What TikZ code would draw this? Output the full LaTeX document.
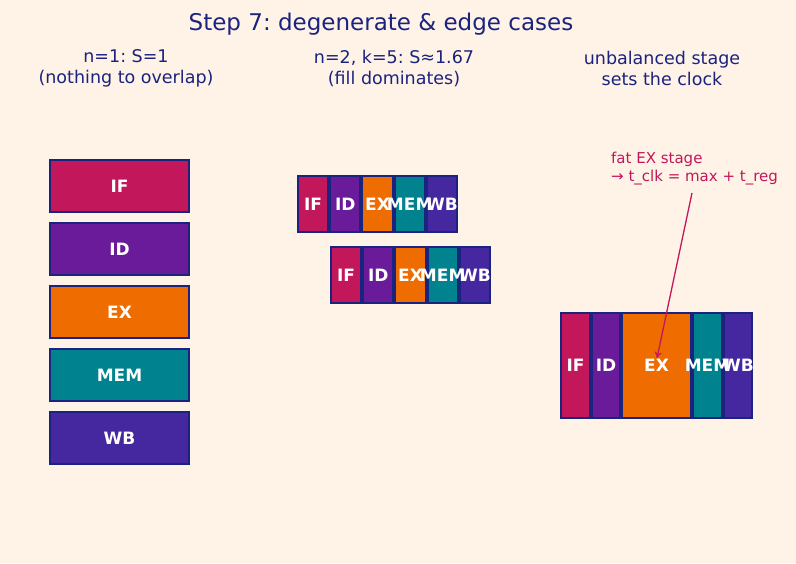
\documentclass[tikz,border=0pt]{standalone}
\usepackage{fontspec}
\setmainfont{DejaVu Sans}
\usetikzlibrary{arrows.meta}
\frenchspacing
\definecolor{bg}{HTML}{FFF2E6}
\definecolor{navy}{HTML}{1A237E}
\definecolor{cIF}{HTML}{C2185B}
\definecolor{cID}{HTML}{6A1B9A}
\definecolor{cEX}{HTML}{EF6C00}
\definecolor{cMEM}{HTML}{00838F}
\definecolor{cWB}{HTML}{4527A0}
\definecolor{note}{HTML}{C2185B}
\tikzset{
  stagebox/.style={draw=navy, line width=2pt, inner sep=0pt, outer sep=0pt},
  stagelabel/.style={text=white, font=\fontsize{17}{19}\selectfont\bfseries, inner sep=0pt},
  header/.style={text=navy, align=center, font=\fontsize{17.5}{21}\selectfont},
}
\begin{document}
\begin{tikzpicture}[x=1pt,y=-1pt]
\useasboundingbox[fill=bg] (0,0) rectangle (796,563);
\node[text=navy, font=\fontsize{23}{26}\selectfont] (title) at (381,24) {Step 7: degenerate \& edge cases};
\node[header] (h1) at (126,68.5) {n=1: S=1\\(nothing to overlap)};
\node[header] (h2) at (394,68.5) {n=2, k=5: S≈1.67\\(fill dominates)};
\node[header] (h3) at (662,68.5) {unbalanced stage\\sets the clock};
% column 1
\foreach \n/\c [count=\i from 0] in {IF/cIF,ID/cID,EX/cEX,MEM/cMEM,WB/cWB}{
  \node[stagebox, fill=\c, minimum width=139pt, minimum height=52pt] (a\n) at (119.5,186+63*\i) {};
  \node[stagelabel] (la\n) at (a\n.center) {\n};
}
% column 2
\foreach \n/\c [count=\i from 0] in {IF/cIF,ID/cID,EX/cEX,MEM/cMEM,WB/cWB}{
  \node[stagebox, fill=\c, minimum width=30.2pt, minimum height=56pt] (b\n) at (313.1+32.2*\i,204) {};
  \node[stagebox, fill=\c, minimum width=30.2pt, minimum height=56pt] (c\n) at (346.1+32.2*\i,275) {};
}
\foreach \n in {IF,ID,EX,MEM,WB}{
  \node[stagelabel] (lb\n) at (b\n.center) {\n};
  \node[stagelabel] (lc\n) at (c\n.center) {\n};
}
% column 3
\foreach \n/\c/\x/\w in {IF/cIF/575.5/31,ID/cID/606/30,EX/cEX/656.5/71,MEM/cMEM/707.5/31,WB/cWB/738/30}{
  \node[stagebox, fill=\c, minimum width=\w pt-2pt, minimum height=105pt] (d\n) at (\x,365.5) {};
}
\foreach \n in {IF,ID,EX,MEM,WB}{
  \node[stagelabel] (ld\n) at (d\n.center) {\n};
}
\node[text=note, align=left, anchor=west, font=\fontsize{15}{18}\selectfont, inner sep=0pt] (note) at (611,169) {fat EX stage\\→ t\_clk = max + t\_reg};
\coordinate (ns) at (692,193);
\coordinate (ne) at (657,358);
\draw[note, line width=1.3pt, -{To[length=6pt,width=7pt]}] (ns) -- (ne);
\end{tikzpicture}
\end{document}
